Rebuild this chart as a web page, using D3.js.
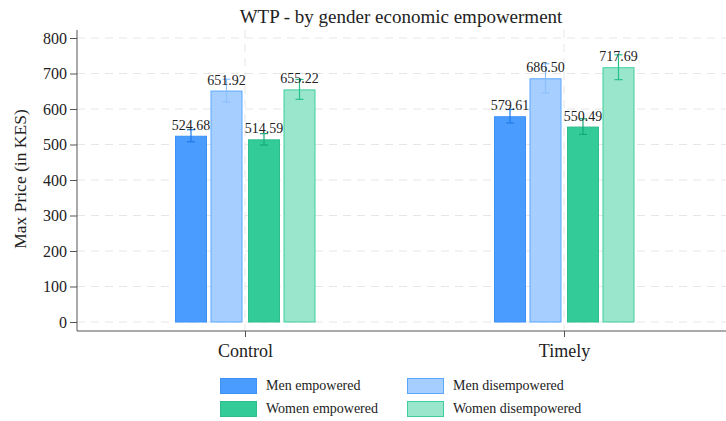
<!DOCTYPE html>
<html>
<head>
<meta charset="utf-8">
<script src="https://cdn.jsdelivr.net/npm/d3@7"></script>
<style>
  body { margin: 0; background: #fff; }
  svg { display: block; font-family: "Liberation Serif", "DejaVu Serif", serif; }
</style>
</head>
<body>
<div id="chart"></div>
<script>
// chart data
const categories = ["Control", "Timely"];
const groups = ["Men empowered", "Men disempowered", "Women empowered", "Women disempowered"];
const menEmpowered = [524.68, 579.61];
const menDisempowered = [651.92, 686.50];
const womenEmpowered = [514.59, 550.49];
const womenDisempowered = [655.22, 717.69];
// half-width of the confidence intervals
const errMenEmp = [17, 19];
const errMenDis = [32, 41];
const errWomenEmp = [16, 22];
const errWomenDis = [28, 35];
const yTicks = [0, 100, 200, 300, 400, 500, 600, 700, 800];

const fills = ["#4a9dff", "#a6cfff", "#33cc99", "#99e6cc"];
const strokes = ["#3d90f5", "#5aa6ff", "#2ebd8d", "#3fcf9c"];
const errColors = ["#1f7ae8", "#8cc0ff", "#16a878", "#25c08c"];

const series = [menEmpowered, menDisempowered, womenEmpowered, womenDisempowered];
const errs = [errMenEmp, errMenDis, errWomenEmp, errWomenDis];

const width = 726, height = 421;
const svg = d3.select("#chart").append("svg")
    .attr("width", width)
    .attr("height", height);

const plotLeft = 77, plotRight = 726, plotTop = 30, plotBottom = 331;

const y = d3.scaleLinear().domain([0, 800]).range([322, 38]);
const x = d3.scalePoint().domain(categories).range([245, 564]);

// offsets of each bar from category centre
const offsets = [-70, -34.5, 3, 38.5];
const barW = 32;

// grid
svg.append("g")
    .selectAll("line")
    .data(yTicks)
    .join("line")
    .attr("x1", plotLeft).attr("x2", plotRight)
    .attr("y1", d => y(d)).attr("y2", d => y(d))
    .attr("stroke", "#e6e6e6")
    .attr("stroke-dasharray", "8,6");

svg.append("g")
    .selectAll("line")
    .data(categories)
    .join("line")
    .attr("x1", d => x(d)).attr("x2", d => x(d))
    .attr("y1", plotTop).attr("y2", plotBottom)
    .attr("stroke", "#e6e6e6")
    .attr("stroke-dasharray", "8,6");

// bars
series.forEach((vals, gi) => {
    const g = svg.append("g");
    g.selectAll("rect")
        .data(vals)
        .join("rect")
        .attr("x", (d, i) => x(categories[i]) + offsets[gi] + 0.5)
        .attr("y", d => y(d) + 0.5)
        .attr("width", barW - 1)
        .attr("height", d => y(0) - y(d) - 0.5)
        .attr("fill", fills[gi])
        .attr("stroke", strokes[gi])
        .attr("stroke-width", 1);

    // error bars
    vals.forEach((v, i) => {
        const cx = x(categories[i]) + offsets[gi] + barW / 2;
        const e = errs[gi][i];
        g.append("line")
            .attr("x1", cx).attr("x2", cx)
            .attr("y1", y(v - e)).attr("y2", y(v + e))
            .attr("stroke", errColors[gi]).attr("stroke-width", 1.2);
        [v - e, v + e].forEach(w => {
            g.append("line")
                .attr("x1", cx - 4).attr("x2", cx + 4)
                .attr("y1", y(w)).attr("y2", y(w))
                .attr("stroke", errColors[gi]).attr("stroke-width", 1.2);
        });
    });

    g.selectAll("text")
        .data(vals)
        .join("text")
        .attr("x", (d, i) => x(categories[i]) + offsets[gi] + barW / 2)
        .attr("y", d => y(d) - 6)
        .attr("text-anchor", "middle")
        .attr("font-size", 14)
        .attr("fill", "#222")
        .text(d => d.toFixed(2));
});

// axes
const yAxis = d3.axisLeft(y).tickValues(yTicks).tickSize(7).tickPadding(3);
const gy = svg.append("g").attr("transform", `translate(${plotLeft},0)`).call(yAxis);
gy.select(".domain").attr("d", `M0,${plotTop}V${plotBottom}`).attr("stroke", "#555");
gy.selectAll(".tick line").attr("stroke", "#555");
gy.selectAll(".tick text").attr("font-size", 16).attr("fill", "#222")
    .attr("font-family", "Liberation Serif, serif");

const xAxis = d3.axisBottom(x).tickSize(6).tickPadding(7);
const gx = svg.append("g").attr("transform", `translate(0,${plotBottom})`).call(xAxis);
gx.select(".domain").attr("d", `M${plotLeft},0H${plotRight}`).attr("stroke", "#555");
gx.selectAll(".tick line").attr("stroke", "#555");
gx.selectAll(".tick text").attr("font-size", 18).attr("fill", "#222")
    .attr("font-family", "Liberation Serif, serif");

// title
svg.append("text")
    .attr("x", 401).attr("y", 23)
    .attr("text-anchor", "middle")
    .attr("font-size", 19)
    .attr("fill", "#222")
    .text("WTP - by gender economic empowerment");

// y label
svg.append("text")
    .attr("transform", "translate(26,179) rotate(-90)")
    .attr("text-anchor", "middle")
    .attr("font-size", 17.5)
    .attr("fill", "#222")
    .text("Max Price (in KES)");

// legend
const legendPos = [[220, 378], [407, 378], [220, 401], [407, 401]];
groups.forEach((name, gi) => {
    const [lx, ly] = legendPos[gi];
    svg.append("rect")
        .attr("x", lx + 0.5).attr("y", ly + 0.5)
        .attr("width", 36).attr("height", 15)
        .attr("fill", fills[gi]).attr("stroke", strokes[gi]);
    svg.append("text")
        .attr("x", lx + 46).attr("y", ly + 12)
        .attr("font-size", 14)
        .attr("fill", "#222")
        .text(name);
});
</script>
</body>
</html>
